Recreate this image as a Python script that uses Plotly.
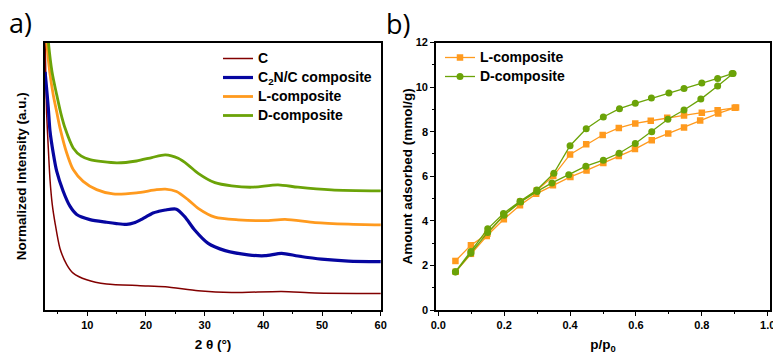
import plotly.graph_objects as go

# ---------------- XRD data (panel a) ----------------
xrd_C_x = [2.82, 2.95, 3.08, 3.36, 3.65, 4.04, 4.5, 5.35, 6.5, 7.6, 9.9, 13.3, 19.0, 23.3, 28.9, 34.6, 43.1, 48.8, 60.0]
xrd_C_y = [101, 85, 73.4, 60.6, 48.9, 39.4, 32.7, 23.0, 17.0, 13.8, 11.3, 9.7, 9.1, 8.7, 7.2, 6.5, 6.9, 6.4, 6.2]

xrd_C2N_x = [2.82, 2.96, 3.36, 3.65, 4.2, 4.79, 5.9, 7.05, 8.2, 10.46, 13.3, 15.0, 16.7, 18.0, 19.0, 20.0, 21.2, 22.2, 23.3, 25.2, 26.6, 28.3, 30.6, 33.5, 37.4, 40.3, 43.1, 45.9, 49.9, 54.5, 60.0]
xrd_C2N_y = [89, 85.6, 75.6, 66.9, 58.7, 51.9, 44.4, 38.8, 35.7, 33.8, 32.8, 32.3, 32.0, 32.6, 33.6, 34.8, 36.3, 36.9, 37.4, 37.7, 34.9, 29.9, 24.9, 22.2, 20.6, 20.3, 21.2, 20.2, 19.0, 18.3, 18.1]

xrd_L_x = [2.85, 3.08, 3.6, 4.2, 4.8, 5.35, 6.5, 7.6, 9.3, 11.6, 14.4, 18.4, 21.8, 23.3, 25.2, 27.2, 28.9, 31.75, 35.7, 40.3, 43.7, 48.8, 54.5, 60.0]
xrd_L_y = [110, 100.6, 89, 80.5, 74, 68.1, 58.7, 52.5, 48.1, 45.0, 43.4, 43.8, 45.0, 45.2, 44.3, 41.2, 38.0, 34.7, 33.7, 33.4, 33.9, 32.7, 32.1, 31.8]

xrd_D_x = [2.9, 3.36, 4.0, 4.79, 5.5, 6.2, 7.6, 9.0, 10.46, 15.0, 18.4, 21.0, 23.3, 25.5, 27.2, 28.9, 31.75, 34.6, 38.0, 42.5, 45.9, 51.6, 60.0]
xrd_D_y = [115, 100.6, 89, 80.5, 73.5, 68.1, 60.6, 57.5, 56.2, 55.0, 55.7, 57.0, 58.0, 56.7, 54.2, 51.1, 47.6, 46.4, 45.9, 46.8, 45.9, 44.9, 44.5]

# ---------------- Isotherm data (panel b) ----------------
iso_p_L = [0.053, 0.099, 0.147, 0.199, 0.248, 0.297, 0.348, 0.401, 0.450, 0.501, 0.548, 0.597, 0.648, 0.698, 0.746, 0.795, 0.850, 0.900,
           0.904, 0.848, 0.800, 0.746, 0.695, 0.645, 0.598, 0.548, 0.499, 0.449, 0.400, 0.349, 0.299, 0.249, 0.198, 0.149, 0.099, 0.052]
iso_q_L = [1.72, 2.52, 3.32, 4.07, 4.70, 5.21, 5.60, 5.97, 6.26, 6.60, 6.91, 7.22, 7.62, 7.92, 8.19, 8.50, 8.82, 9.07,
           9.08, 8.96, 8.85, 8.73, 8.62, 8.49, 8.37, 8.17, 7.85, 7.43, 6.98, 6.01, 5.36, 4.86, 4.25, 3.42, 2.91, 2.20]

iso_p_D = [0.052, 0.099, 0.150, 0.200, 0.250, 0.300, 0.345, 0.396, 0.448, 0.501, 0.549, 0.598, 0.648, 0.697, 0.746, 0.797, 0.848, 0.892,
           0.895, 0.848, 0.800, 0.746, 0.700, 0.647, 0.598, 0.550, 0.501, 0.449, 0.400, 0.351, 0.299, 0.248, 0.198, 0.150, 0.099, 0.052]
iso_q_D = [1.70, 2.55, 3.48, 4.25, 4.85, 5.32, 5.70, 6.07, 6.45, 6.72, 7.03, 7.47, 8.00, 8.56, 8.97, 9.46, 10.05, 10.61,
           10.61, 10.39, 10.18, 9.94, 9.74, 9.51, 9.27, 9.03, 8.66, 8.13, 7.37, 6.14, 5.38, 4.88, 4.33, 3.64, 2.62, 1.72]

xrd_ticks = [10, 20, 30, 40, 50, 60]
iso_xticks = [0.0, 0.2, 0.4, 0.6, 0.8, 1.0]
iso_yticks = [0, 2, 4, 6, 8, 10, 12]

RED = "#820000"
BLUE = "#0606A0"
ORANGE = "#FF9A1E"
GREEN = "#6BA308"
FONT = "Liberation Sans, Arial, sans-serif"


def big(t):
    return '<span style="font-size:14px">' + t + '</span>'


fig = go.Figure()


def xrd(x, y, name, color, w):
    fig.add_trace(go.Scatter(x=x, y=y, name=big(name), mode="lines",
                             line=dict(color=color, width=w, shape="spline", smoothing=0.7),
                             xaxis="x", yaxis="y", legend="legend"))


xrd(xrd_C_x, xrd_C_y, "C", RED, 1.5)
xrd(xrd_C2N_x, xrd_C2N_y, "C<sub>2</sub>N/C composite", BLUE, 3.2)
xrd(xrd_L_x, xrd_L_y, "L-composite", ORANGE, 2.8)
xrd(xrd_D_x, xrd_D_y, "D-composite", GREEN, 2.8)

fig.add_trace(go.Scatter(x=iso_p_L, y=iso_q_L, name=big("L-composite"), mode="lines+markers",
                         line=dict(color=ORANGE, width=1.3),
                         marker=dict(symbol="square", size=6.5, color=ORANGE),
                         xaxis="x2", yaxis="y2", legend="legend2"))
fig.add_trace(go.Scatter(x=iso_p_D, y=iso_q_D, name=big("D-composite"), mode="lines+markers",
                         line=dict(color=GREEN, width=1.3),
                         marker=dict(symbol="circle", size=7, color=GREEN),
                         xaxis="x2", yaxis="y2", legend="legend2"))

ax_common = dict(showline=True, linecolor="black", linewidth=1.6, mirror=True,
                 showgrid=False, zeroline=False, automargin=False,
                 ticklabeloverflow="allow",
                 tickfont=dict(family=FONT, size=11, color="black", weight="bold"))
title_font = dict(family=FONT, size=13.5, color="black", weight="bold")
legend_font = dict(family=FONT, size=12, color="black", weight="bold")

fig.update_layout(
    width=773, height=354,
    margin=dict(l=0, r=0, t=0, b=0),
    paper_bgcolor="white", plot_bgcolor="white",
    font=dict(family=FONT, color="black"),
    xaxis=dict(domain=[45/773, 381/773], range=[2.8, 60.05], tickvals=xrd_ticks,
               ticks="outside", ticklen=4, tickwidth=1.3, tickcolor="black",
               minor=dict(tickvals=[5, 15, 25, 35, 45, 55], ticks="outside", ticklen=2.5, tickwidth=1, tickcolor="black"),
               title=dict(text="2 θ (°)", font=title_font, standoff=10),
               anchor="y", **ax_common),
    yaxis=dict(domain=[44/354, 311.5/354], range=[0, 100], showticklabels=False, ticks="",
               title=dict(text="Normalized Intensity (a.u.)", font=title_font, standoff=13),
               anchor="x", **ax_common),
    xaxis2=dict(domain=[436/773, 770/773], range=[-0.007, 1.007], tickvals=iso_xticks,
                tickformat=".1f",
                ticks="outside", ticklen=4, tickwidth=1.3, tickcolor="black",
                minor=dict(tickvals=[0.1, 0.3, 0.5, 0.7, 0.9], ticks="outside", ticklen=2.5, tickwidth=1, tickcolor="black"),
                title=dict(text="p/p<sub>0</sub>", font=title_font, standoff=10),
                anchor="y2", **ax_common),
    yaxis2=dict(domain=[44/354, 311.5/354], range=[0, 12], tickvals=iso_yticks,
                ticks="outside", ticklen=4, tickwidth=1.3, tickcolor="black",
                minor=dict(tickvals=[1, 3, 5, 7, 9, 11], ticks="outside", ticklen=2.5, tickwidth=1, tickcolor="black"),
                title=dict(text="Amount adsorbed (mmol/g)", font=title_font, standoff=0),
                anchor="x2", **ax_common),
    legend=dict(x=218/773, y=1 - 44/354, xanchor="left", yanchor="top",
                bgcolor="rgba(0,0,0,0)", borderwidth=0, itemwidth=30,
                font=legend_font, tracegroupgap=0),
    legend2=dict(x=440/773, y=1 - 43/354, xanchor="left", yanchor="top",
                 bgcolor="rgba(0,0,0,0)", borderwidth=0, itemwidth=30,
                 font=legend_font, tracegroupgap=0),
    showlegend=True,
    annotations=[
        dict(text="a)", x=7/773, y=1 - 2/354, xref="paper", yref="paper", xanchor="left", yanchor="top",
             showarrow=False, font=dict(family="Open Sans, sans-serif", size=27, color="black")),
        dict(text="b)", x=384/773, y=1 - 3/354, xref="paper", yref="paper", xanchor="left", yanchor="top",
             showarrow=False, font=dict(family="Open Sans, sans-serif", size=27, color="black")),
    ],
)

fig.write_html("out.html")
